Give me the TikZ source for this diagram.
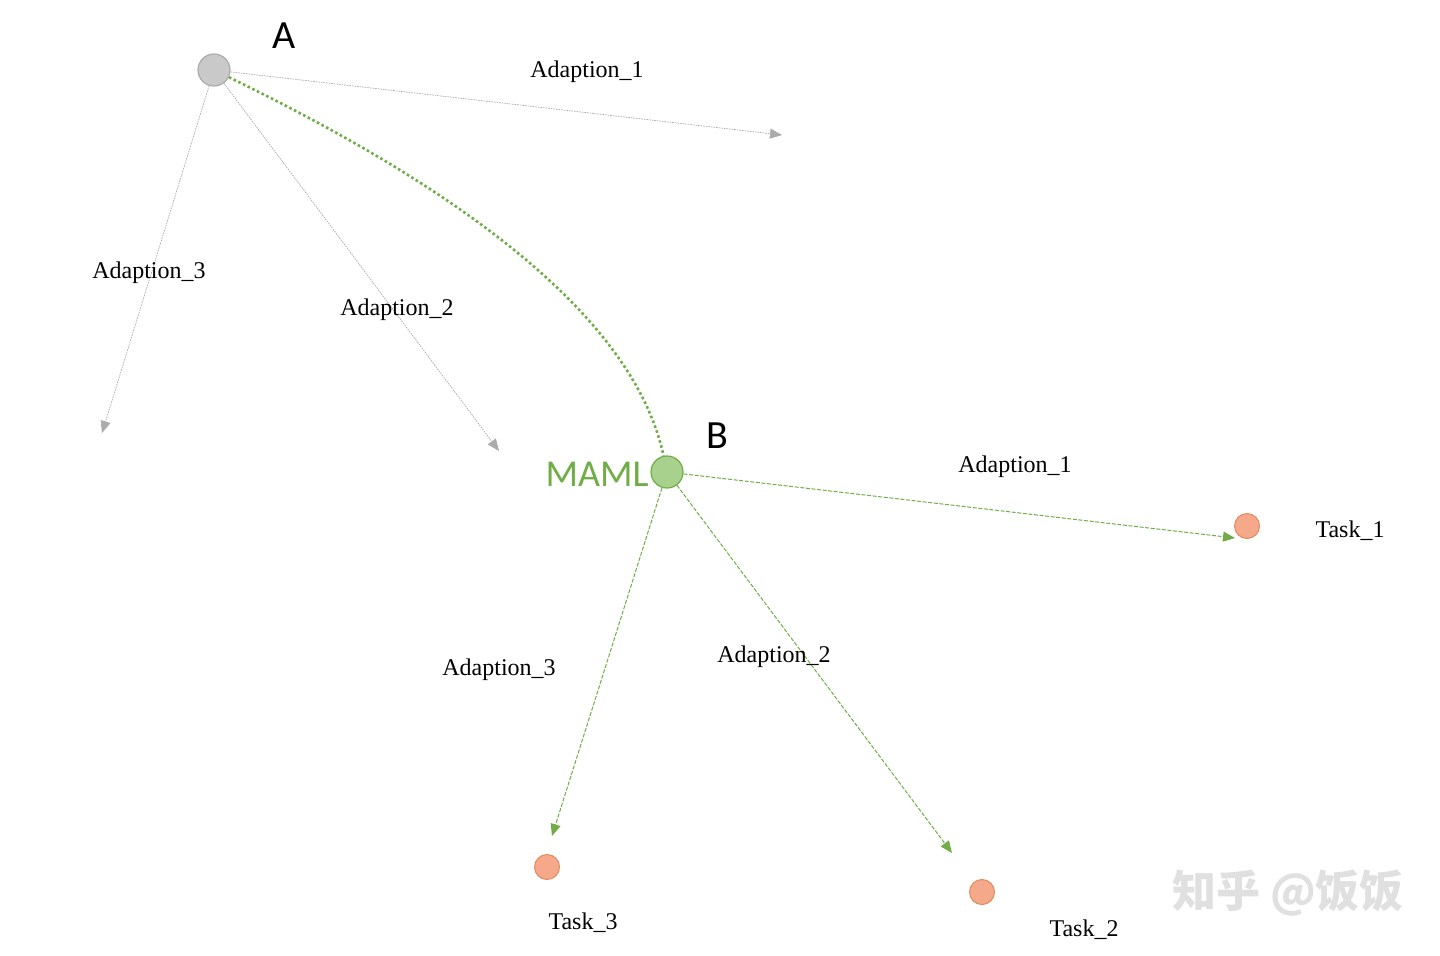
\documentclass[tikz,border=0pt]{standalone}
\usepackage{fontspec}
\setmainfont{Liberation Serif}
\newfontfamily\labelfont{Carlito}
\newfontfamily\cjkfont{Noto Sans CJK SC}
\usetikzlibrary{arrows.meta}
\definecolor{ggray}{HTML}{ABABAB}
\definecolor{gfill}{HTML}{C9C9C9}
\definecolor{mgreen}{HTML}{70AD47}
\definecolor{mfill}{HTML}{A9D18E}
\definecolor{tfill}{HTML}{F5A98A}
\definecolor{tline}{HTML}{E08A5C}
\tikzset{every node/.style={font=\fontsize{12}{14}\selectfont},line cap=round,line join=round,
  param/.style={circle,draw,line width=0.6pt,minimum size=16pt,inner sep=0pt},
  task/.style={circle,draw=tline,fill=tfill,line width=0.5pt,minimum size=12.5pt,inner sep=0pt},
  letter/.style={font=\labelfont\fontsize{20}{24}\selectfont},
  grayarrow/.style={draw=ggray,line width=0.35pt,dash pattern=on 0.8pt off 0.5pt,-{Triangle[length=6pt,width=5pt]}},
  greenarrow/.style={draw=mgreen,line width=0.5pt,dash pattern=on 2pt off 0.8pt,-{Triangle[length=6pt,width=5pt]}}}

\begin{document}
\begin{tikzpicture}[x=0.5pt,y=-0.5pt]
  \path[use as bounding box] (0,0) rectangle (1440,955);
  \node[param,draw=ggray,fill=gfill] (A) at (214,70) {};
  \node[letter] (Alabel) at (284,36) {A};
  \node[param,draw=mgreen,fill=mfill] (B) at (667,472) {};
  \node[letter] (Blabel) at (717,436) {B};
  \node[letter,font=\labelfont\fontsize{19}{22}\selectfont,text=mgreen,anchor=east,inner sep=0pt] (maml) at (649,474) {MAML};

  \node[task] (task1) at (1247,526) {};
  \node[task] (task2) at (982,892) {};
  \node[task] (task3) at (547,867) {};
  \node (task1label) at (1350,531) {Task\_1};
  \node (task2label) at (1084,930) {Task\_2};
  \node (task3label) at (583,923) {Task\_3};

  \coordinate (a1) at (782,135);
  \coordinate (a2) at (499,451);
  \coordinate (a3) at (102,433);
  \coordinate (b1) at (1235,538);
  \coordinate (b2) at (952,853);
  \coordinate (b3) at (552,836);

  \draw[grayarrow] (A) -- (a1);
  \draw[grayarrow] (A) -- (a2);
  \draw[grayarrow] (A) -- (a3);
  \draw[greenarrow] (B) -- (b1);
  \draw[greenarrow] (B) -- (b2);
  \draw[greenarrow] (B) -- (b3);
  \draw[mgreen,line width=1.3pt,line cap=butt,dash pattern=on 1.3pt off 1.3pt] (A) .. controls (420,170) and (630,300) .. (B);

  \node (adA1) at (587,72) {Adaption\_1};
  \node (adA2) at (397,310) {Adaption\_2};
  \node (adA3) at (149,273) {Adaption\_3};
  \node (adB1) at (1015,467) {Adaption\_1};
  \node (adB2) at (774,657) {Adaption\_2};
  \node (adB3) at (499,670) {Adaption\_3};

  \node[font=\cjkfont\bfseries\fontsize{22}{26}\selectfont,text=black!12] (mark) at (1288,893) {知乎 @饭饭};
\end{tikzpicture}
\end{document}
